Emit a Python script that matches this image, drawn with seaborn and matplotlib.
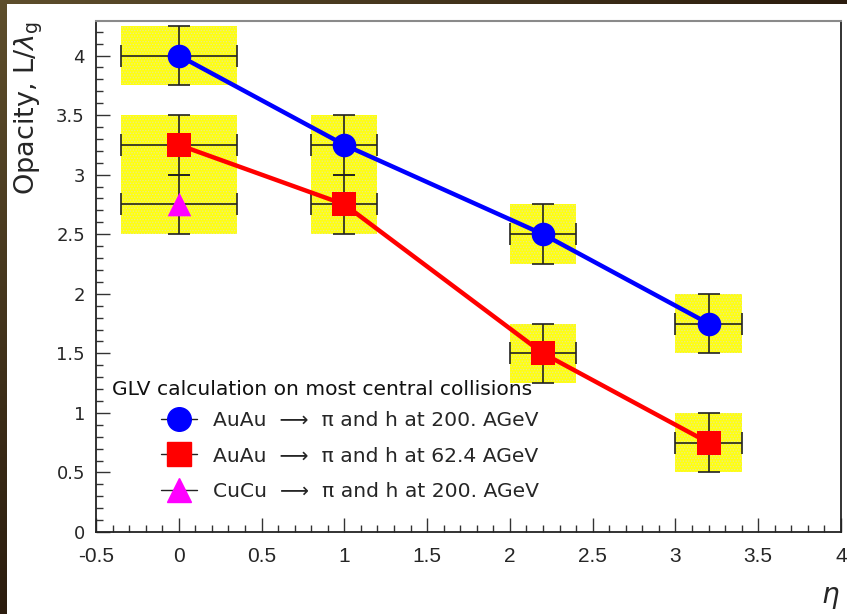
import numpy as np
import pandas as pd
import matplotlib
matplotlib.use("Agg")
import matplotlib.pyplot as plt
from matplotlib.patches import Rectangle
from matplotlib.lines import Line2D
from matplotlib.ticker import MultipleLocator, FormatStrFormatter
import seaborn as sns

# --- data -------------------------------------------------------------
eta_auau = [0.0, 1.0, 2.2, 3.2]
opacity_auau200 = [4.0, 3.25, 2.5, 1.75]
opacity_auau62 = [3.25, 2.75, 1.5, 0.75]
eta_cucu = [0.0]
opacity_cucu200 = [2.75]
eta_err = [0.35, 0.2, 0.2, 0.2]
opacity_err = 0.25

labels = [
    "AuAu  \u27f6  \u03c0 and h at 200. AGeV",
    "AuAu  \u27f6  \u03c0 and h at 62.4 AGeV",
    "CuCu  \u27f6  \u03c0 and h at 200. AGeV",
]
legend_title = "GLV calculation on most central collisions"

sns.set_style("ticks")
plt.rcParams["font.family"] = ["DejaVu Sans"]
plt.rcParams["hatch.linewidth"] = 0.6

W, H = 847, 614
fig = plt.figure(figsize=(W / 100, H / 100), dpi=100)

# dark gradient frame behind the white canvas
bg = fig.add_axes([0, 0, 1, 1], zorder=-10)
bg.set_axis_off()
gx, gy = np.meshgrid(np.linspace(0, 1, 200), np.linspace(0, 1, 200))
t = np.clip(0.75 * gx + 0.75 * gy, 0, 1)[..., None]
c0 = np.array([0x5e, 0x4e, 0x2c]) / 255
c1 = np.array([0x1a, 0x0c, 0x04]) / 255
bg.imshow(c0 * (1 - t) + c1 * t, extent=[0, 1, 0, 1], aspect="auto", origin="upper")
bg.set_xlim(0, 1)
bg.set_ylim(0, 1)
fig.patches.append(Rectangle((7 / W, 0), 1, (H - 4) / H, transform=fig.transFigure,
                             facecolor="white", edgecolor="none", zorder=-5))

ax = fig.add_axes([96 / W, (H - 532) / H, (841 - 96) / W, (532 - 21) / H])
ax.set_facecolor("white")
ax.patch.set_alpha(0)

# systematic boxes
series = [(eta_auau, opacity_auau200), (eta_auau, opacity_auau62), (eta_cucu, opacity_cucu200)]
for xs, ys in series:
    for i, (xv, yv) in enumerate(zip(xs, ys)):
        dx = eta_err[i]
        ax.add_patch(Rectangle((xv - dx, yv - opacity_err), 2 * dx, 2 * opacity_err,
                               facecolor="#ffff10", edgecolor="#e8e890", hatch="......",
                               linewidth=0, zorder=1))

# error bars
for xs, ys in series:
    ax.errorbar(xs, ys, xerr=eta_err[:len(xs)], yerr=opacity_err, fmt="none",
                ecolor="#222222", elinewidth=1.2, capsize=8, capthick=1.2, zorder=2)

df = pd.DataFrame({
    "eta": eta_auau * 2,
    "opacity": opacity_auau200 + opacity_auau62,
    "system": ["AuAu 200"] * 4 + ["AuAu 62.4"] * 4,
})
sns.lineplot(data=df[df.system == "AuAu 200"], x="eta", y="opacity", color="#0000ff",
             linewidth=3.2, marker="o", markersize=17, markeredgecolor="#0000ff",
             markeredgewidth=0, zorder=4, ax=ax)
sns.lineplot(data=df[df.system == "AuAu 62.4"], x="eta", y="opacity", color="#ff0000",
             linewidth=3.2, marker="s", markersize=17, markeredgecolor="#ff0000",
             markeredgewidth=0, zorder=4, ax=ax)
sns.scatterplot(x=eta_cucu, y=opacity_cucu200, marker="^", s=17 ** 2, color="#ff00ff",
                edgecolor="#ff00ff", linewidth=0, zorder=5, ax=ax)

ax.set_xlim(-0.5, 4.0)
ax.set_ylim(0, 4.29)
ax.xaxis.set_major_locator(MultipleLocator(0.5))
ax.xaxis.set_minor_locator(MultipleLocator(0.1))
ax.yaxis.set_major_locator(MultipleLocator(0.5))
ax.yaxis.set_minor_locator(MultipleLocator(0.1))
ax.xaxis.set_major_formatter(FormatStrFormatter("%g"))
ax.yaxis.set_major_formatter(FormatStrFormatter("%g"))
ax.tick_params(which="both", direction="in", top=False, right=False, color="#333333", width=1)
ax.tick_params(which="major", length=10)
ax.tick_params(which="minor", length=5)
ax.tick_params(axis="x", pad=11)
ax.tick_params(axis="y", pad=8)
for lab in ax.get_xticklabels():
    lab.set_fontfamily("Liberation Sans")
    lab.set_fontsize(15)
for lab in ax.get_yticklabels():
    lab.set_fontsize(13)

for side in ["left", "bottom", "right"]:
    ax.spines[side].set_color("#222222")
    ax.spines[side].set_linewidth(1.3)
ax.spines["top"].set_color("#8a8a8a")
ax.spines["top"].set_linewidth(1.5)

ax.set_ylabel(r"Opacity, L/$\lambda_{\rm g}$", fontsize=19.5, loc="top")
ax.yaxis.set_label_coords(-0.068, 1.0)
ax.set_xlabel(r"$\eta$", fontsize=20, loc="right")
ax.xaxis.set_label_coords(0.998, -0.10)

ax.text(0.0215, 0.278, legend_title, transform=ax.transAxes, fontsize=14.6,
        va="center", ha="left", color="#111111")
handles = [
    Line2D([], [], color="#222222", linewidth=1, marker="o", markersize=17,
           markerfacecolor="#0000ff", markeredgecolor="#0000ff"),
    Line2D([], [], color="#222222", linewidth=1, marker="s", markersize=17,
           markerfacecolor="#ff0000", markeredgecolor="#ff0000"),
    Line2D([], [], color="#222222", linewidth=1, marker="^", markersize=17,
           markerfacecolor="#ff00ff", markeredgecolor="#ff00ff"),
]
ax.legend(handles, labels, loc="upper left", bbox_to_anchor=(0.087, 0.237),
          frameon=False, fontsize=14.6, handlelength=1.8, handletextpad=0.75,
          labelspacing=0.82, borderpad=0, borderaxespad=0)

fig.savefig("out.png", dpi=100)
